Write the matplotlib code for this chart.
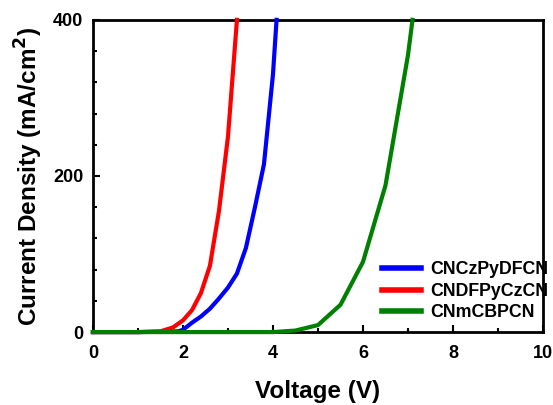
import matplotlib
matplotlib.use("Agg")
from matplotlib import pyplot as plt
from matplotlib.ticker import MultipleLocator

plt.rcParams['font.family'] = ['Liberation Sans', 'DejaVu Sans']
plt.rcParams['font.weight'] = 'bold'

# CNCzPyDFCN
v_blue = [0, 1.0, 1.5, 1.9, 2.0, 2.2, 2.4, 2.6, 2.8, 3.0, 3.2, 3.4, 3.6, 3.8, 4.0, 4.08]
j_blue = [0, 0, 0.5, 1, 3, 12, 20, 30, 43, 57, 75, 108, 160, 215, 330, 400]
# CNDFPyCzCN
v_red = [0, 1.0, 1.5, 1.78, 2.0, 2.2, 2.4, 2.6, 2.8, 3.0, 3.1, 3.2]
j_red = [0, 0, 1, 6, 15, 28, 50, 85, 155, 250, 325, 400]
# CNmCBPCN
v_green = [0, 1, 2, 3, 4, 4.5, 5.0, 5.5, 6.0, 6.5, 7.0, 7.1]
j_green = [0, 0, 0, 0, 0, 2, 9, 35, 90, 188, 355, 400]

labels = ["CNCzPyDFCN", "CNDFPyCzCN", "CNmCBPCN"]

fig = plt.figure(figsize=(5.53, 4.05), dpi=100)
ax = fig.add_axes([0.168, 0.180, 0.814, 0.771])

ax.plot(v_blue, j_blue, color='#0000ff', lw=3, label=labels[0], clip_on=False, zorder=3)
ax.plot(v_red, j_red, color='#ff0000', lw=3, label=labels[1], clip_on=False, zorder=3)
ax.plot(v_green, j_green, color='#008000', lw=3, label=labels[2], clip_on=False, zorder=4)

ax.set_xlim(0, 10)
ax.set_ylim(0, 400)
ax.xaxis.set_major_locator(MultipleLocator(2))
ax.xaxis.set_minor_locator(MultipleLocator(1))
ax.yaxis.set_major_locator(MultipleLocator(200))
ax.yaxis.set_minor_locator(MultipleLocator(40))

for s in ax.spines.values():
    s.set_linewidth(2)
ax.tick_params(which='both', direction='in', width=1.5, labelsize=13)
ax.tick_params(axis='x', pad=9)
ax.tick_params(axis='y', pad=7)
ax.tick_params(which='major', length=5)
ax.tick_params(which='minor', length=3)

ax.set_xlabel("Voltage (V)", fontsize=17.5, fontweight='bold', labelpad=13)
ax.set_ylabel("Current Density (mA/cm$^\\mathbf{2}$)", fontsize=17.5, fontweight='bold', labelpad=6)

leg = ax.legend(loc='lower right', frameon=False, fontsize=12.8, handlelength=2.2,
                handletextpad=0.5, labelspacing=0.25, borderpad=0, borderaxespad=0,
                bbox_to_anchor=(1.012, 0.035))
for h in leg.get_lines():
    h.set_linewidth(4)

fig.savefig("out.png", dpi=100)
